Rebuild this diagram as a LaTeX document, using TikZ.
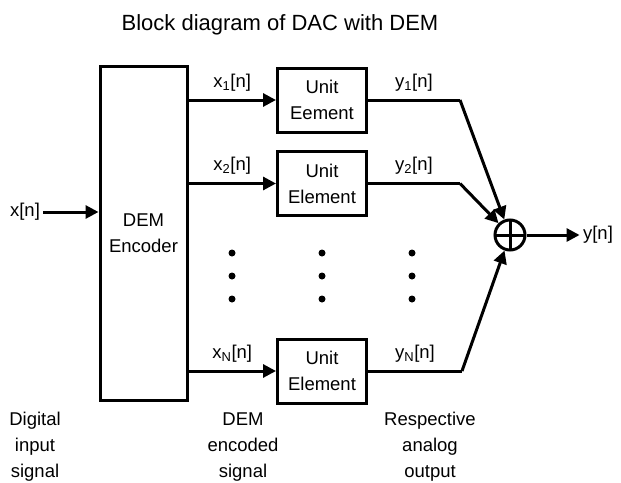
\documentclass[tikz,border=0pt]{standalone}
\usepackage{fontspec}
\setmainfont{Liberation Sans}
\usepackage{tikz}
\usetikzlibrary{arrows.meta,positioning,calc}

\begin{document}
\begin{tikzpicture}[
      x=1pt, y=-1pt,
      font=\fontsize{18.5}{26}\selectfont,
      block/.style={rectangle, draw, line width=3pt, align=center, inner sep=2pt},
      unitbox/.style={block, minimum width=89pt, minimum height=64pt},
      wire/.style={line width=3pt, -{Triangle[length=13pt,width=13pt]}},
      plain/.style={line width=3pt},
      lbl/.style={midway, above=4pt},
    ]
    \useasboundingbox (0,0) rectangle (621,482);

    \node (title) at (280,25) {\fontsize{22}{26}\selectfont Block diagram of DAC with DEM};

    \node[block, minimum width=87pt, minimum height=334pt] (enc) at (143.5,233) {DEM\\Encoder};
    \node (xin) at (25,212) {x[n]};

    \node[unitbox] (u1) at (322,100)   {Unit\\Eement};
    \node[unitbox] (u2) at (322,183.5) {Unit\\Element};
    \node[unitbox] (uN) at (322,371)   {Unit\\Element};

    \node[circle, draw, line width=3pt, minimum size=30pt, inner sep=0pt,
          path picture={\draw[line width=3pt]
            (path picture bounding box.north) -- (path picture bounding box.south)
            (path picture bounding box.west) -- (path picture bounding box.east);}]
          (sum) at (510,235) {};
    \node (yout) at (598,235) {y[n]};

    \draw[wire] (xin.east) -- (xin.east -| enc.west);

    \draw[wire] (enc.east |- u1.west) -- node[lbl] {x\textsubscript{1}[n]} (u1.west);
    \draw[wire] (enc.east |- u2.west) -- node[lbl] {x\textsubscript{2}[n]} (u2.west);
    \draw[wire] (enc.east |- uN.west) -- node[lbl] {x\textsubscript{N}[n]} (uN.west);

    \draw[plain] (u1.east) -- node[lbl] {y\textsubscript{1}[n]} ++(92,0) coordinate (b1);
    \draw[plain] (u2.east) -- node[lbl] {y\textsubscript{2}[n]} ++(92,0) coordinate (b2);
    \draw[plain] (uN.east) -- node[lbl] {y\textsubscript{N}[n]} ++(94,0) coordinate (bN);
    \draw[wire] (b1) -- (sum);
    \draw[wire] (b2) -- (sum);
    \draw[wire] (bN) -- (sum);

    \draw[wire] (sum) -- (yout);

    % dots between channels
    \foreach \x in {232,322,412}
      \foreach \y in {253,276,299}
        \fill (\x,\y) circle (3.5);

    \node[align=center] (lin)  at (35,447)  {Digital\\input\\signal};
    \node[align=center] (lenc) at (243,447) {DEM\\encoded\\signal};
    \node[align=center] (lout) at (430,447) {Respective\\analog\\output};
  \end{tikzpicture}
\end{document}
